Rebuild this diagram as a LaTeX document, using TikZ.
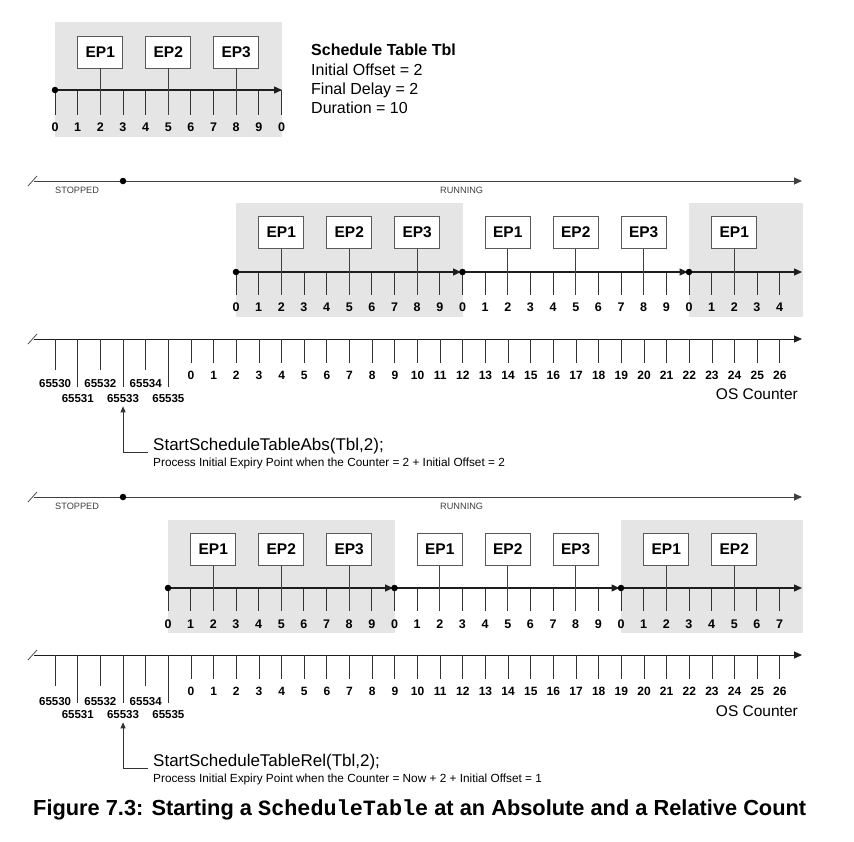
\documentclass[tikz,border=0pt]{standalone}
\usepackage{fontspec}
\setmainfont{Liberation Sans}
\setmonofont{Liberation Mono}
\usetikzlibrary{arrows.meta,positioning,calc}
\definecolor{stgray}{RGB}{229,229,229}
\definecolor{stdark}{RGB}{30,30,30}

\tikzset{
  tblbg/.style={fill=stgray},
  epbox/.style={draw=black!65, fill=white, line width=0.9pt, minimum width=45pt,
    minimum height=32pt, inner sep=0pt, font=\fontsize{15.5}{18}\selectfont\bfseries},
  axisarrow/.style={line width=1.3pt, stdark, -{Triangle[length=8pt,width=7pt]}},
  stateline/.style={line width=1pt, black!75, -{Triangle[length=8pt,width=7pt]}},
  tickline/.style={line width=0.9pt, black!80},
  conn/.style={line width=0.9pt, black!75},
  dot/.style={circle, fill=black, inner sep=0pt, minimum size=6.5pt},
  num/.style={inner sep=0pt, text height=9pt, text depth=0pt, font=\fontsize{12.5}{14}\selectfont\bfseries},
  osnum/.style={inner sep=0pt, text height=8.6pt, text depth=0pt, font=\fontsize{12}{14}\selectfont\bfseries},
  bignum/.style={inner sep=0pt, text height=8.2pt, text depth=0pt, font=\fontsize{11.5}{13}\selectfont\bfseries},
  statelbl/.style={anchor=base west, inner sep=0pt, font=\fontsize{9.2}{11}\selectfont, black!75},
  legend/.style={anchor=base west, inner sep=0pt, font=\fontsize{16}{19}\selectfont},
  calltext/.style={anchor=base west, inner sep=0pt, font=\fontsize{17}{20}\selectfont},
  whytext/.style={anchor=base west, inner sep=0pt, font=\fontsize{11.8}{14}\selectfont},
  callout/.style={line width=0.9pt, black!80, -{Triangle[length=6pt,width=5pt]}, shorten >=4pt},
  breakmark/.style={line width=0.8pt, black!70}
}
\def\dx{22.65}

\begin{document}
\begin{tikzpicture}[x=1pt,y=-1pt]
\useasboundingbox (0,0) rectangle (854,841);

% the schedule table itself
\fill[tblbg] (55,22) rectangle (282,137);
\foreach \k in {0,...,10}{
  \pgfmathsetmacro\xx{55+\k*\dx}
  \pgfmathtruncatemacro\lbl{mod(\k,10)}
  \coordinate (lt\k) at (\xx,115);
  \draw[tickline] (\xx,90) -- (lt\k);
  \node[num] (ln\k) at (\xx,127) {\lbl};
}
\coordinate (la0) at (55,90);
\coordinate (la1) at (282,90);
\draw[axisarrow] (la0) -- (la1);
\node[dot] (ldot) at (la0) {};
\foreach \k/\t/\n in {2/EP1/1,5/EP2/2,8/EP3/3}{
  \node[epbox] (lep\n) at ({55+\k*\dx},52) {\t};
  \draw[conn] (lep\n) -- (lt\k);
}
\node[legend, font=\fontsize{16}{19}\selectfont\bfseries] (leg1) at (311,55) {Schedule Table Tbl};
\node[legend] (leg2) at (311,75) {Initial Offset = 2};
\node[legend] (leg3) at (311,94) {Final Delay = 2};
\node[legend] (leg4) at (311,113) {Duration = 10};

% ---------- absolute start ----------
\draw[breakmark] (28,186) -- (37,176);
\coordinate (s1a) at (34,181);
\coordinate (s1b) at (802,181);
\draw[stateline] (s1a) -- (s1b);
\node[dot] (s1go) at (123,181) {};
\node[statelbl] (stop1) at (55,193) {STOPPED};
\node[statelbl] (run1) at (440,193) {RUNNING};

\fill[tblbg] (236,203) rectangle ({236+10*\dx},317);
\fill[tblbg] ({236+20*\dx},203) rectangle (803,317);
\foreach \k in {0,...,24}{
  \pgfmathsetmacro\xx{236+\k*\dx}
  \pgfmathtruncatemacro\lbl{mod(\k,10)}
  \coordinate (p\k) at (\xx,295);
  \draw[tickline] (\xx,272) -- (p\k);
  \node[num] (pn\k) at (\xx,307) {\lbl};
}
\coordinate (pa0) at (236,272);
\coordinate (pa1) at ({236+10*\dx},272);
\coordinate (pa2) at ({236+20*\dx},272);
\coordinate (pa3) at (802,272);
\draw[axisarrow, shorten >=1.5pt] (pa0) -- (pa1);
\draw[axisarrow, shorten >=1.5pt] (pa1) -- (pa2);
\draw[axisarrow] (pa2) -- (pa3);
\foreach \i in {0,1,2} \node[dot] (pd\i) at (pa\i) {};
\foreach \k/\t/\n in {2/EP1/1,5/EP2/2,8/EP3/3,12/EP1/4,15/EP2/5,18/EP3/6,22/EP1/7}{
  \node[epbox] (pe\n) at ({236+\k*\dx},232.5) {\t};
  \draw[conn] (pe\n) -- (p\k);
}

% OS counter
\draw[breakmark] (28,344) -- (37,334);
\coordinate (c1a) at (34,339);
\coordinate (c1b) at (802,339);
\draw[axisarrow, line width=1pt] (c1a) -- (c1b);
\foreach \j in {0,...,26}{
  \pgfmathsetmacro\xx{191+\j*\dx}
  \coordinate (c\j) at (\xx,363);
  \draw[tickline] (\xx,339) -- (c\j);
  \node[osnum] (cn\j) at (\xx,375) {\j};
}
\foreach \j/\v/\len/\ly in {1/65535/48/59,2/65534/31/44,3/65533/48/59,4/65532/31/44,5/65531/48/59,6/65530/31/44}{
  \pgfmathsetmacro\xx{191-\j*\dx}
  \coordinate (cm\j) at (\xx,339+\len);
  \draw[tickline] (\xx,339) -- (cm\j);
  \node[bignum] (cv\j) at (\xx,339+\ly) {\v};
}
\node[anchor=base east, inner sep=0pt, font=\fontsize{15.5}{18}\selectfont] (os1) at (798,399) {OS Counter};

\coordinate (k1) at (148,452);
\draw[callout] (k1) -| (cv3.south);
\node[calltext] (call1) at (153,450) {StartScheduleTableAbs(Tbl,2);};
\node[whytext] (why1) at (153,466) {Process Initial Expiry Point when the Counter = 2 + Initial Offset = 2};

% ---------- relative start ----------
\draw[breakmark] (28,502) -- (37,492);
\coordinate (s2a) at (34,497);
\coordinate (s2b) at (802,497);
\draw[stateline] (s2a) -- (s2b);
\node[dot] (s2go) at (123,497) {};
\node[statelbl] (stop2) at (55,509) {STOPPED};
\node[statelbl] (run2) at (440,509) {RUNNING};

\fill[tblbg] (168,520) rectangle ({168+10*\dx},633);
\fill[tblbg] ({168+20*\dx},520) rectangle (803,633);
\foreach \k in {0,...,27}{
  \pgfmathsetmacro\xx{168+\k*\dx}
  \pgfmathtruncatemacro\lbl{mod(\k,10)}
  \coordinate (q\k) at (\xx,611);
  \draw[tickline] (\xx,588) -- (q\k);
  \node[num] (qn\k) at (\xx,624) {\lbl};
}
\coordinate (qa0) at (168,588);
\coordinate (qa1) at ({168+10*\dx},588);
\coordinate (qa2) at ({168+20*\dx},588);
\coordinate (qa3) at (802,588);
\draw[axisarrow, shorten >=1.5pt] (qa0) -- (qa1);
\draw[axisarrow, shorten >=1.5pt] (qa1) -- (qa2);
\draw[axisarrow] (qa2) -- (qa3);
\foreach \i in {0,1,2} \node[dot] (qd\i) at (qa\i) {};
\foreach \k/\t/\n in {2/EP1/1,5/EP2/2,8/EP3/3,12/EP1/4,15/EP2/5,18/EP3/6,22/EP1/7,25/EP2/8}{
  \node[epbox] (qe\n) at ({168+\k*\dx},549.5) {\t};
  \draw[conn] (qe\n) -- (q\k);
}

% OS counter
\draw[breakmark] (28,660) -- (37,650);
\coordinate (d1a) at (34,655);
\coordinate (d1b) at (802,655);
\draw[axisarrow, line width=1pt] (d1a) -- (d1b);
\foreach \j in {0,...,26}{
  \pgfmathsetmacro\xx{191+\j*\dx}
  \coordinate (d\j) at (\xx,679);
  \draw[tickline] (\xx,655) -- (d\j);
  \node[osnum] (dn\j) at (\xx,691) {\j};
}
\foreach \j/\v/\len/\ly in {1/65535/48/59,2/65534/31/46,3/65533/48/59,4/65532/31/46,5/65531/48/59,6/65530/31/46}{
  \pgfmathsetmacro\xx{191-\j*\dx}
  \coordinate (dm\j) at (\xx,655+\len);
  \draw[tickline] (\xx,655) -- (dm\j);
  \node[bignum] (dv\j) at (\xx,655+\ly) {\v};
}
\node[anchor=base east, inner sep=0pt, font=\fontsize{15.5}{18}\selectfont] (os2) at (798,716) {OS Counter};

\coordinate (k2) at (148,768);
\draw[callout] (k2) -| (dv3.south);
\node[calltext] (call2) at (153,766) {StartScheduleTableRel(Tbl,2);};
\node[whytext] (why2) at (153,782) {Process Initial Expiry Point when the Counter = Now + 2 + Initial Offset = 1};

\node[anchor=base west, inner sep=0pt, font=\fontsize{21.8}{24}\selectfont\bfseries] (cap) at (33,815)
  {Figure 7.3: Starting a \texttt{ScheduleTable} at an Absolute and a Relative Count};
\end{tikzpicture}
\end{document}
